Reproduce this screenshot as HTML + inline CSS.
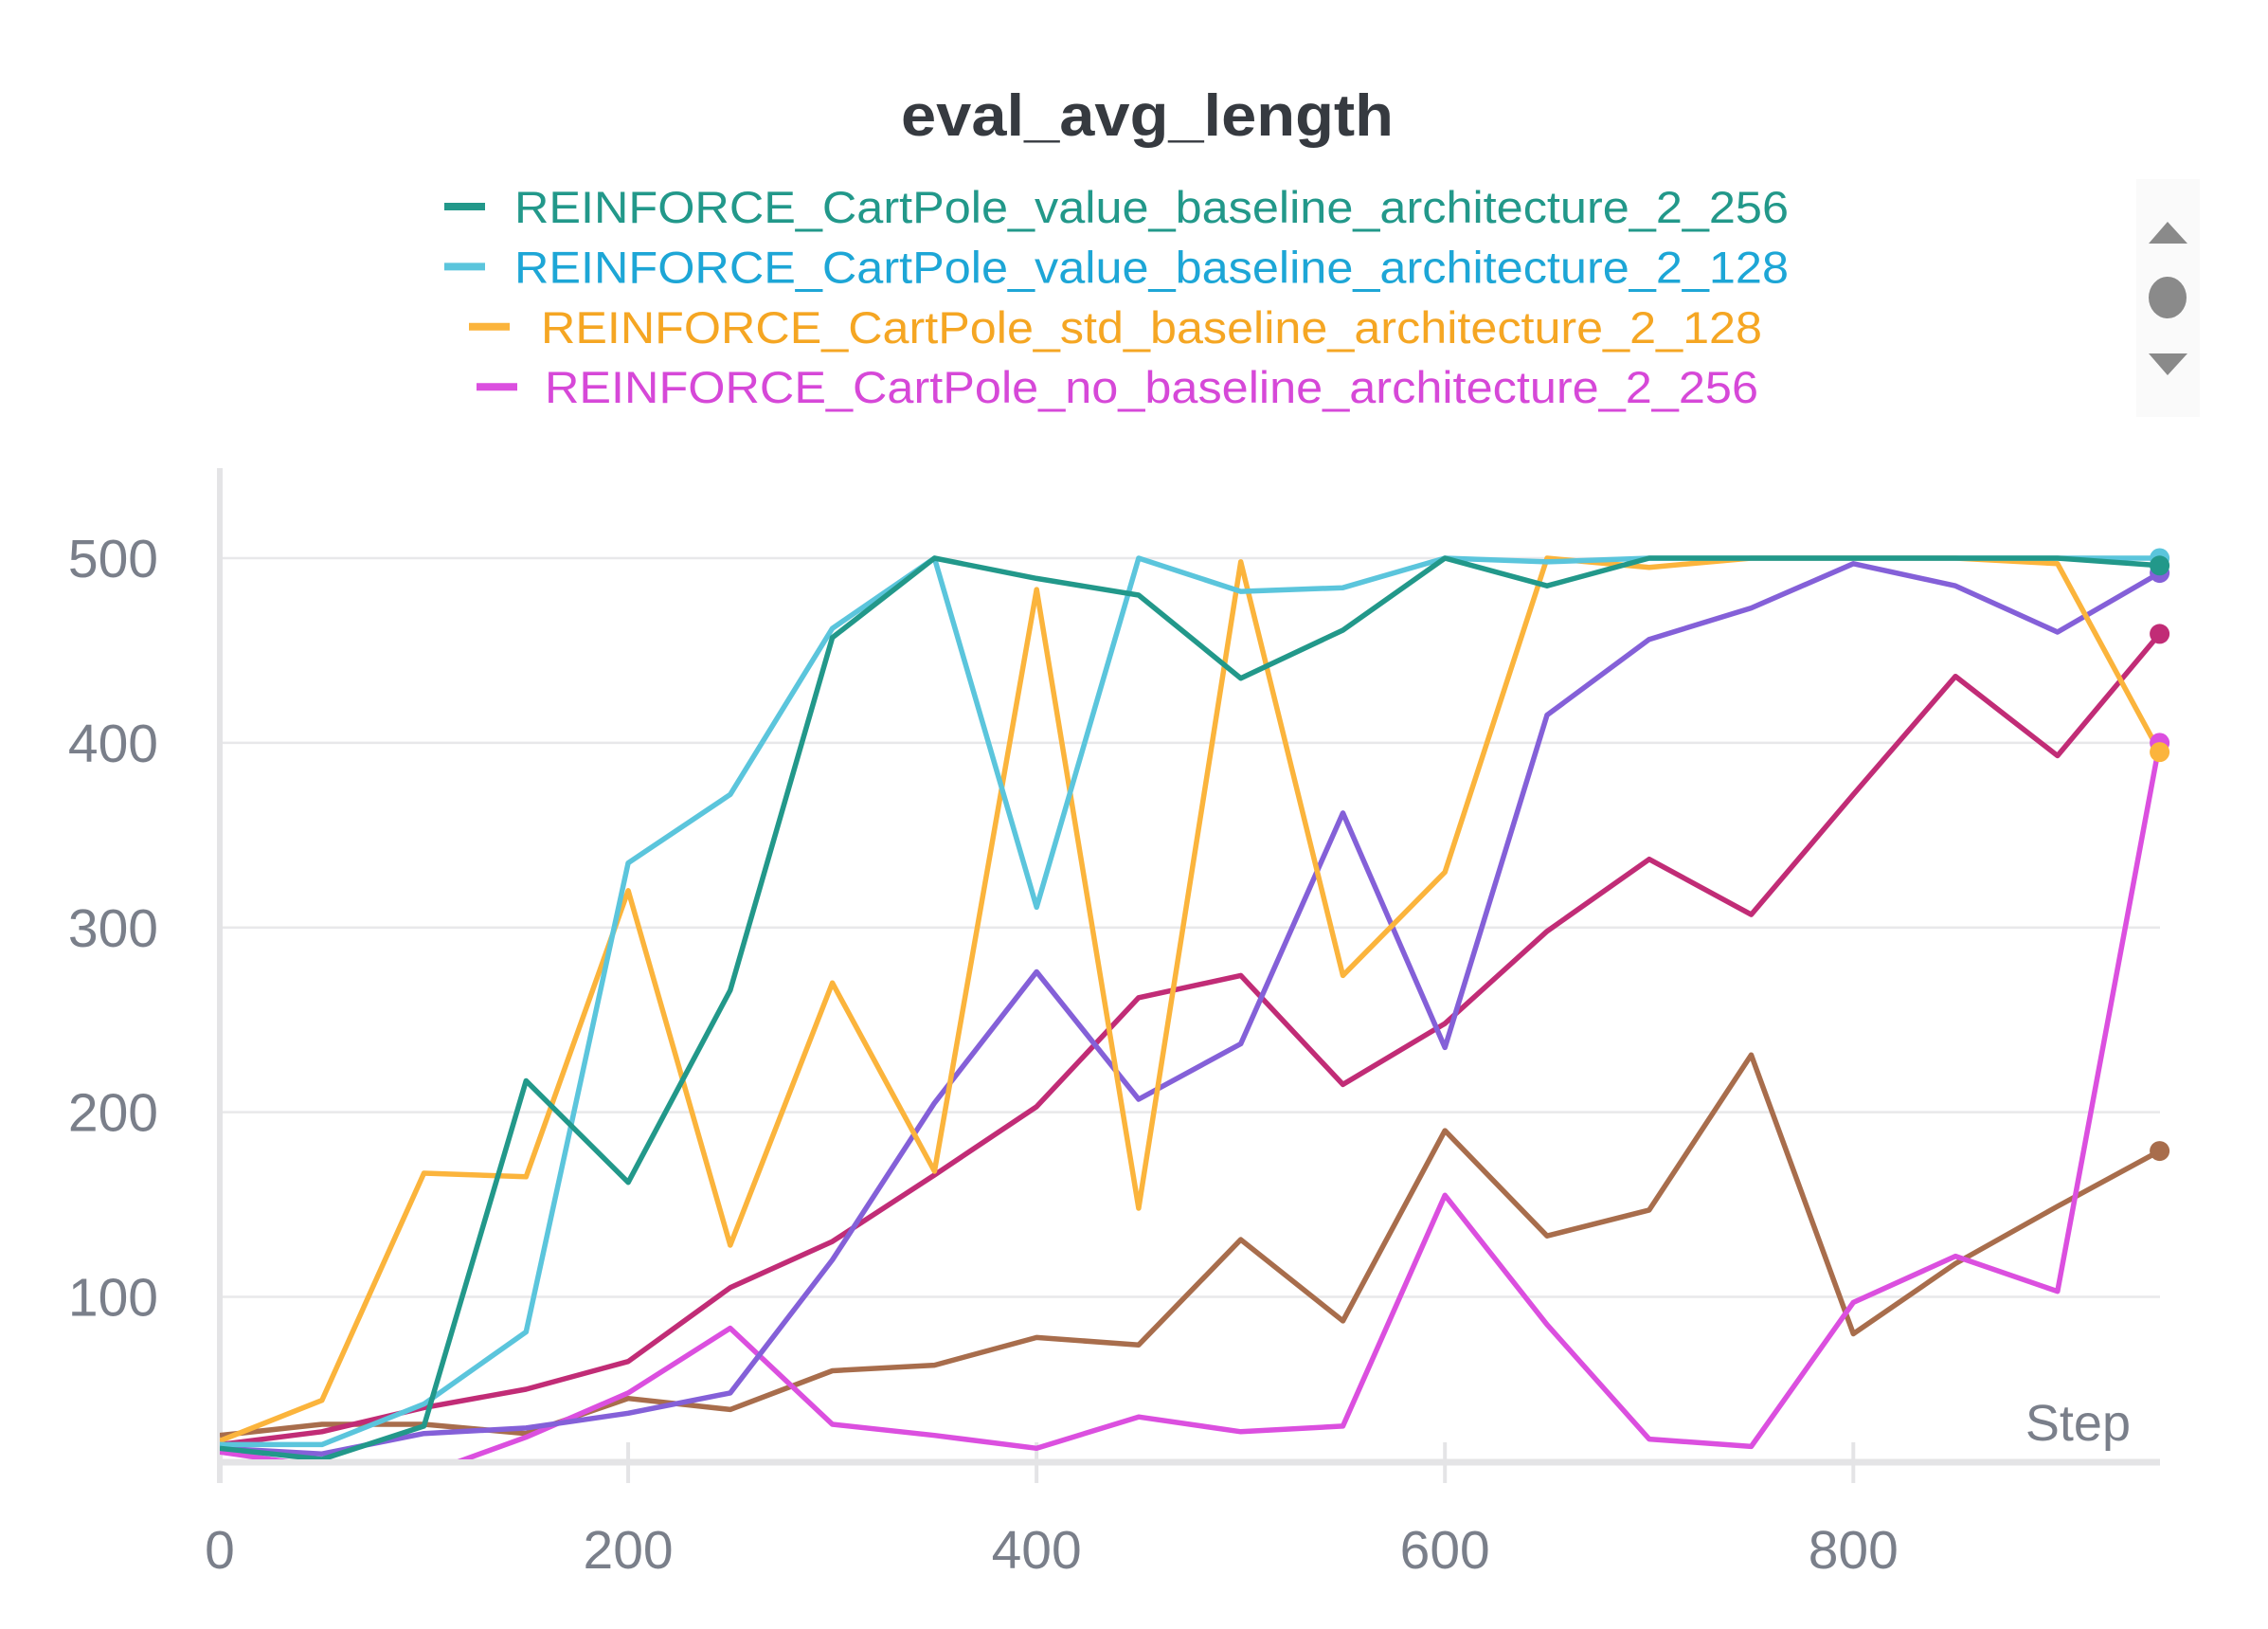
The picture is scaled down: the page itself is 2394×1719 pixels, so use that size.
<!DOCTYPE html>
<html><head><meta charset="utf-8"><style>
html,body{margin:0;padding:0;background:#fff;}
svg{display:block;}
text{font-family:"Liberation Sans",sans-serif;}
</style></head><body>
<svg id="chart" width="2394" height="1719" viewBox="0 0 2394 1719" xmlns="http://www.w3.org/2000/svg">
<defs><clipPath id="plotclip"><rect x="232" y="440" width="2070" height="1100"/></clipPath></defs>
<text x="1211" y="143" text-anchor="middle" font-size="62" font-weight="bold" fill="#363a40" textLength="520" lengthAdjust="spacingAndGlyphs">eval_avg_length</text>
<g id="legend"></g>
<g>
<rect x="2255" y="189" width="67" height="251" fill="#fafafa"/>
<polygon points="2268,257 2309,257 2288,234" fill="#8a8a8a"/>
<ellipse cx="2288" cy="314" rx="20" ry="22" fill="#8a8a8a"/>
<polygon points="2268,373 2309,373 2288,396" fill="#8a8a8a"/>
</g>
<g id="grid"></g>
<g id="axes"></g>
<g id="series" clip-path="url(#plotclip)"></g>
<g id="dots"></g>
<text x="2249" y="1520" text-anchor="end" font-size="54" fill="#7a7f8a">Step</text>
</svg>
<script>
const steps = [0,50,100,150,200,250,300,350,400,450,500,550,600,650,700,750,800,850,900,950];
const teal256 = [18,12,30,217,162,266,457,500,489,480,435,461,500,485,500,500,500,500,500,496];
const cyan128 = [20,20,42,81,335,372,462,500,311,500,482,484,500,498,500,500,500,500,500,500];
const orangeStd = [22,44,167,165,320,128,270,168,483,148,498,274,330,500,495,500,500,500,497,395];
const magentaNo = [16,8,4,24,48,83,31,25,18,35,27,30,155,85,23,19,97,122,103,400];
const purpleRun = [18,15,26,29,37,48,120,205,276,207,237,362,235,415,456,473,497,485,460,492];
const crimsonRun = [20,27,40,50,65,105,130,166,203,262,274,215,248,298,337,307,372,436,393,459];
const brownRun = [25,31,31,26,45,39,60,63,78,74,131,87,190,133,147,231,80,118,149,179];
const yTicks = [100,200,300,400,500];
const xTicks = [0,200,400,600,800];
const legendLabels = ["REINFORCE_CartPole_value_baseline_architecture_2_256","REINFORCE_CartPole_value_baseline_architecture_2_128","REINFORCE_CartPole_std_baseline_architecture_2_128","REINFORCE_CartPole_no_baseline_architecture_2_256"];

const NS="http://www.w3.org/2000/svg";
function xs(s){return 232 + s*(1724.3/800);}
function ys(v){return 589 + (500-v)*1.9488;}
function mk(tag,attrs,parent){const e=document.createElementNS(NS,tag);for(const k in attrs)e.setAttribute(k,attrs[k]);parent.appendChild(e);return e;}

const grid=document.getElementById('grid');
yTicks.forEach(v=>{
  const l=mk('line',{x1:232,x2:2280,y1:ys(v),y2:ys(v),stroke:'#e8e8ea','stroke-width':2.5},grid);
  
  
  const t=mk('text',{x:167,y:ys(v)+20,'text-anchor':'end','font-size':57,fill:'#7a7f8a'},grid);
  t.textContent=v;
  
  
});
const axes=document.getElementById('axes');
const ya=mk('line',{x1:232,x2:232,y1:494,y2:1565,stroke:'#e4e4e6','stroke-width':6},axes);


const xa=mk('line',{x1:229,x2:2280,y1:1543,y2:1543,stroke:'#e4e4e6','stroke-width':7},axes);


xTicks.forEach(s=>{
  const tk=mk('line',{x1:xs(s),x2:xs(s),y1:1522,y2:1565,stroke:'#e4e4e6','stroke-width':4},axes);
  
  
  const t=mk('text',{x:xs(s),y:1655,'text-anchor':'middle','font-size':57,fill:'#7a7f8a'},axes);
  t.textContent=s;
  
  
});

const seriesList=[
 {d:brownRun,c:'#a86d4c',n:'series-brown'},
 {d:magentaNo,c:'#db4fdf',n:'series-no-baseline-256'},
 {d:crimsonRun,c:'#c12c76',n:'series-crimson'},
 {d:purpleRun,c:'#8460d8',n:'series-purple'},
 {d:orangeStd,c:'#fbb43c',n:'series-std-baseline-128'},
 {d:cyan128,c:'#5bc5dc',n:'series-value-baseline-128'},
 {d:teal256,c:'#22988a',n:'series-value-baseline-256'}
];
const sg=document.getElementById('series'), dg=document.getElementById('dots');
seriesList.forEach(s=>{
  const pts=s.d.map((v,i)=>xs(steps[i]).toFixed(1)+','+ys(v).toFixed(1)).join(' ');
  const p=mk('polyline',{points:pts,fill:'none',stroke:s.c,'stroke-width':5.5,'stroke-linejoin':'round'},sg);
  
  
  const last=s.d.length-1;
  const c=mk('circle',{cx:xs(steps[last]),cy:ys(s.d[last]),r:10.5,fill:s.c},dg);
  
  
});

const lg=document.getElementById('legend');
const legendColors=['#22988a','#5bc5dc','#fbb43c','#db4fdf'];
const legendText=['#22988a','#1da6d6','#f5a623','#d648d8'];
const lx=[[469,543,1345],[469,543,1345],[495,571,1289],[503,575,1281]];
legendLabels.forEach((lab,i)=>{
  const y=218+i*63.4;
  const m=mk('line',{x1:lx[i][0],x2:lx[i][0]+43,y1:y,y2:y,stroke:legendColors[i],'stroke-width':8},lg);
  
  
  const t=mk('text',{x:lx[i][1],y:y+17,'font-size':47,fill:legendText[i],textLength:lx[i][2],lengthAdjust:'spacingAndGlyphs'},lg);
  t.textContent=lab;
  
  
});
</script>
</body></html>
